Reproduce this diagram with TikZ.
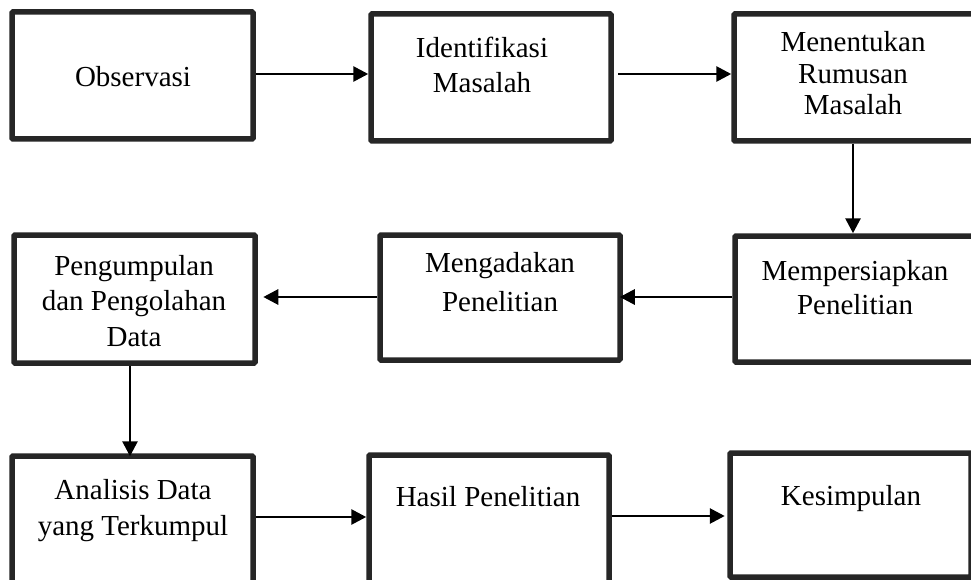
\documentclass[tikz,border=0pt]{standalone}
\usepackage{fontspec}
\setmainfont{Liberation Serif}
\usetikzlibrary{arrows.meta}
\definecolor{boxline}{HTML}{262626}
\begin{document}
\begin{tikzpicture}[x=1pt,y=-1pt,
  box/.style={draw=boxline,line width=5.5pt,rounded corners=1pt,inner sep=0pt,fill=white},
  txt/.style={anchor=base,inner sep=0pt,font=\fontsize{29}{34}\selectfont},
  arr/.style={draw=black,line width=2.8pt,-{Triangle[length=15pt,width=15pt]}}]
\useasboundingbox (0,0) rectangle (971,580);
\clip (0,0) rectangle (971,580);
\fill[white] (0,0) rectangle (971,580);
% boxes
\node[box,minimum width=241pt,minimum height=127pt] (obs) at (132.5,75.5) {};
\node[box,minimum width=240pt,minimum height=127pt] (idf) at (491,77.5) {};
\node[box,minimum width=242pt,minimum height=127pt] (rum) at (855,77.5) {};
\node[box,minimum width=241pt,minimum height=128pt] (pgl) at (134.5,299) {};
\node[box,minimum width=240pt,minimum height=125pt] (mgd) at (500,297.5) {};
\node[box,minimum width=241pt,minimum height=126pt] (mps) at (855.5,299) {};
\node[box,minimum width=241pt,minimum height=144pt] (ana) at (132.5,528) {};
\node[box,minimum width=240pt,minimum height=145pt] (hsl) at (489,527.5) {};
\node[box,minimum width=241pt,minimum height=124pt] (kes) at (850.5,515) {};
% texts
\node[txt] (tobs) at (133,87) {Observasi};
\node[txt] (tidf1) at (482,58) {Identifikasi};
\node[txt] (tidf2) at (482,93) {Masalah};
\node[txt] (trum1) at (853,52) {Menentukan};
\node[txt] (trum2) at (853,83.5) {Rumusan};
\node[txt] (trum3) at (853,115) {Masalah};
\node[txt] (tpgl1) at (134,275) {Pengumpulan};
\node[txt] (tpgl2) at (134,310.5) {dan Pengolahan};
\node[txt] (tpgl3) at (134,346.5) {Data};
\node[txt] (tmgd1) at (500,272) {Mengadakan};
\node[txt] (tmgd2) at (500,311.5) {Penelitian};
\node[txt] (tmps1) at (855,280) {Mempersiapkan};
\node[txt] (tmps2) at (855,314) {Penelitian};
\node[txt] (tana1) at (133,499) {Analisis Data};
\node[txt] (tana2) at (133,535) {yang Terkumpul};
\node[txt] (thsl) at (488,506.5) {Hasil Penelitian};
\node[txt] (tkes) at (851,505) {Kesimpulan};
% connectors
\draw[arr] (obs.east |- 0,74) -- (idf.west |- 0,74);
\draw[arr,shorten <=4.5pt] (idf.east |- 0,74) -- (rum.west |- 0,74);
\draw[arr] (rum.south -| 853,0) -- (mps.north -| 853,0);
\draw[arr,shorten >=-3pt] (mps.west |- 0,297) -- (mgd.east |- 0,297);
\draw[arr,shorten >=5.5pt] (mgd.west |- 0,297) -- (pgl.east |- 0,297);
\draw[arr,shorten >=-3pt] (pgl.south -| 130,0) -- (ana.north -| 130,0);
\draw[arr] (ana.east |- 0,517) -- (hsl.west |- 0,517);
\draw[arr,shorten >=2.5pt] (hsl.east |- 0,516) -- (kes.west |- 0,516);
\end{tikzpicture}
\end{document}
